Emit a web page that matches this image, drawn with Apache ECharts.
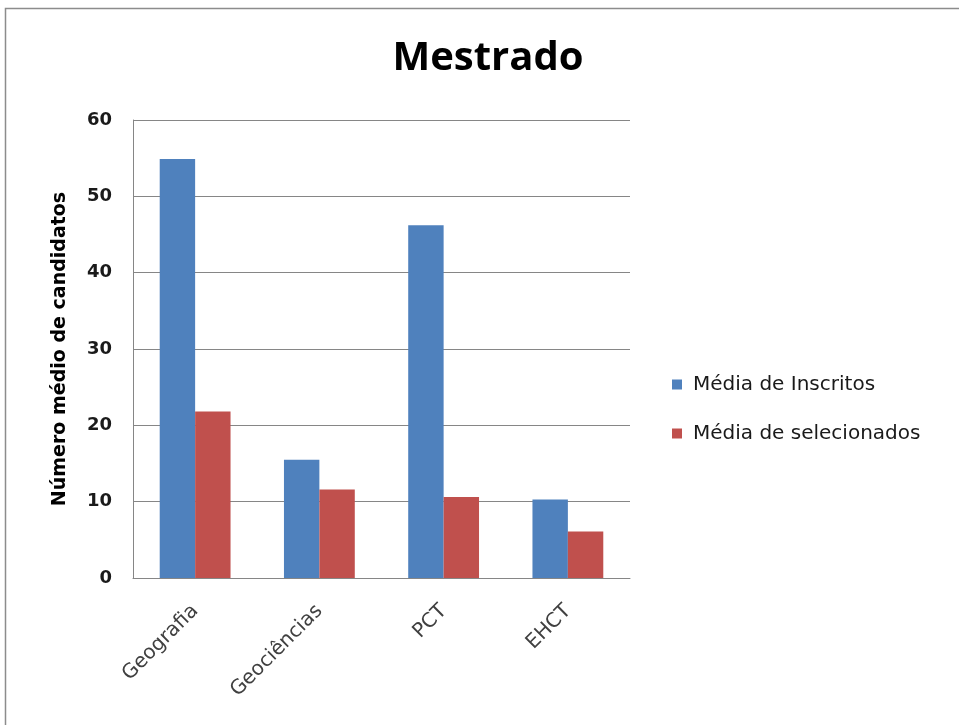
<!DOCTYPE html>
<html>
<head>
<meta charset="utf-8">
<script src="https://cdn.jsdelivr.net/npm/echarts@6/dist/echarts.min.js"></script>
<style>
  html, body { margin: 0; padding: 0; background: #fff; }
  #chart { width: 959px; height: 725px; }
</style>
</head>
<body>
<div id="chart"></div>
<script>
// Programas de mestrado
const categories = ['Geografia', 'Geociências', 'PCT', 'EHCT'];
const mediaInscritos = [54.9, 15.5, 46.2, 10.3];
const mediaSelecionados = [21.8, 11.6, 10.6, 6.1];
const yTicks = { min: 0, max: 60, interval: 10 };

const chart = echarts.init(document.getElementById('chart'), null, { renderer: 'canvas' });

chart.setOption({
  backgroundColor: '#ffffff',
  animation: false,
  title: {
    text: 'Mestrado',
    left: 483,
    top: 34,
    textAlign: 'center',
    textStyle: { fontFamily: 'Open Sans', fontWeight: 'bold', fontSize: 40, color: '#000' }
  },
  legend: {
    orient: 'vertical',
    left: 672,
    top: 374,
    padding: 0,
    itemWidth: 10,
    itemHeight: 10,
    itemGap: 28,
    icon: 'rect',
    textStyle: { fontFamily: 'DejaVu Sans', fontSize: 20, lineHeight: 21, color: '#1a1a1a', padding: [0, 0, 0, 6] },
    data: ['Média de Inscritos', 'Média de selecionados']
  },
  grid: { left: 133, right: 329, top: 120, bottom: 147, containLabel: false },
  xAxis: {
    type: 'category',
    data: categories,
    axisLine: { lineStyle: { color: '#868686', width: 1 } },
    axisTick: { show: false },
    axisLabel: {
      rotate: 45,
      margin: 30,
      fontFamily: 'DejaVu Sans',
      fontSize: 20,
      color: '#404040'
    }
  },
  yAxis: {
    type: 'value',
    min: yTicks.min,
    max: yTicks.max,
    interval: yTicks.interval,
    name: 'Número médio de candidatos',
    nameLocation: 'middle',
    nameRotate: 90,
    nameGap: 63,
    nameTextStyle: { fontFamily: 'DejaVu Sans', fontWeight: 'bold', fontSize: 19, color: '#000' },
    axisLine: { show: true, lineStyle: { color: '#868686', width: 1 } },
    axisTick: { show: false },
    splitLine: { lineStyle: { color: '#868686', width: 1 } },
    axisLabel: {
      fontFamily: 'DejaVu Sans',
      fontWeight: 'bold',
      fontSize: 18,
      color: '#1a1a1a',
      margin: 21,
      padding: [6, 0, 0, 0]
    }
  },
  series: [
    {
      name: 'Média de Inscritos',
      type: 'bar',
      data: mediaInscritos,
      barGap: '0%',
      barCategoryGap: '43%',
      itemStyle: { color: '#4f81bd' }
    },
    {
      name: 'Média de selecionados',
      type: 'bar',
      data: mediaSelecionados,
      itemStyle: { color: '#c0504d' }
    }
  ],
  graphic: [
    {
      type: 'rect',
      shape: { x: 5.5, y: 8.5, width: 1000, height: 1000 },
      style: { fill: 'none', stroke: '#8c8c8c', lineWidth: 1.5 },
      silent: true
    }
  ]
});
</script>
</body>
</html>
